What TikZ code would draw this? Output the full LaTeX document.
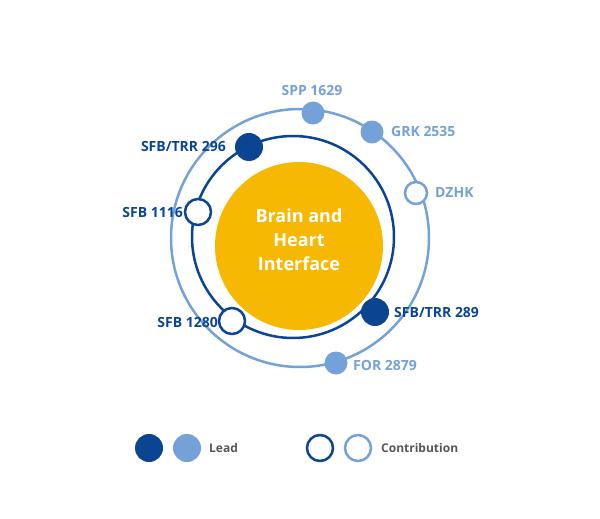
\documentclass[tikz,border=0pt]{standalone}
\usepackage{fontspec}
\setmainfont{Open Sans}
\definecolor{darkblue}{HTML}{0B4592}
\definecolor{lightblue}{HTML}{74A2D8}
\definecolor{heartyellow}{HTML}{F6B800}
\definecolor{legendgray}{HTML}{555555}
\tikzset{
  lead/.style={circle, fill=#1, minimum size=28pt, inner sep=0pt},
  contrib/.style={circle, draw=#1, fill=white, line width=2.5pt, minimum size=26pt, inner sep=0pt},
  smalllead/.style={circle, fill=lightblue, minimum size=23pt, inner sep=0pt},
  smallcontrib/.style={circle, draw=lightblue, fill=white, line width=2.5pt, minimum size=22pt, inner sep=0pt},
  label/.style={font=\bfseries\fontsize{14}{16}\selectfont, text=#1, inner sep=0pt}
}
\begin{document}
\begin{tikzpicture}[x=1pt, y=-1pt]
  \useasboundingbox (0,0) rectangle (600,519);

  % Rings and centre
  \draw[lightblue, line width=2.5pt] (300,238) circle (129);
  \draw[darkblue, line width=2.5pt] (293,237) circle (101);
  \fill[heartyellow] (299,246) circle (84);
  \node[align=center, text=white, font=\bfseries\fontsize{18}{24}\selectfont] (center) at (299,240) {Brain and\\Heart\\Interface};

  % Members on the inner ring
  \node[lead=darkblue] (trr296) at (249,147) {};
  \node[contrib=darkblue] (sfb1116) at (198,212) {};
  \node[contrib=darkblue] (sfb1280) at (232,321) {};
  \node[lead=darkblue] (trr289) at (375,312) {};

  % Members on the outer ring
  \node[smalllead] (spp1629) at (313,113) {};
  \node[smalllead] (grk2535) at (372,132) {};
  \node[smallcontrib] (dzhk) at (416,193) {};
  \node[smalllead] (for2879) at (336,363) {};

  % Labels
  \node[label=darkblue, anchor=east] at (226,146) {SFB/TRR 296};
  \node[label=darkblue, anchor=east] at (183,212) {SFB 1116};
  \node[label=darkblue, anchor=east] at (218,322) {SFB 1280};
  \node[label=darkblue, anchor=west] at (394,312) {SFB/TRR 289};
  \node[label=lightblue] at (312,90) {SPP 1629};
  \node[label=lightblue, anchor=west] at (391,131) {GRK 2535};
  \node[label=lightblue, anchor=west] at (435,193) {DZHK};
  \node[label=lightblue, anchor=west] at (353,365) {FOR 2879};

  % Legend
  \node[lead=darkblue] (leaddark) at (149,448) {};
  \node[lead=lightblue] (leadlight) at (187,448) {};
  \node[label=legendgray, anchor=west, font=\bfseries\fontsize{12}{14}\selectfont] at (209,448) {Lead};
  \node[contrib=darkblue] (contribdark) at (320,448) {};
  \node[contrib=lightblue] (contriblight) at (358,448) {};
  \node[label=legendgray, anchor=west, font=\bfseries\fontsize{12}{14}\selectfont] at (381,448) {Contribution};
\end{tikzpicture}
\end{document}
